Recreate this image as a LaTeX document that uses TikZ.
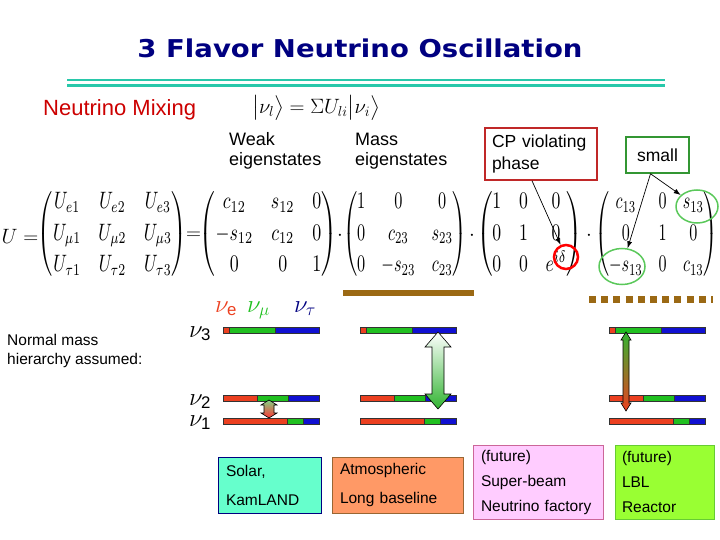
\documentclass[tikz,border=0pt]{standalone}
\usepackage{amsmath}
\usepackage{graphicx}
\usepackage{fontspec}
\setmainfont{Liberation Sans}
\newfontfamily\titlefont{DejaVu Sans}
\usepackage{tikz}
\usetikzlibrary{arrows.meta}
\usetikzlibrary{shapes.geometric}
\usetikzlibrary{positioning}

\definecolor{titleblue}{RGB}{0,0,128}
\definecolor{ruleteal}{RGB}{40,200,170}
\definecolor{mixred}{RGB}{204,0,0}
\definecolor{barred}{RGB}{236,64,32}
\definecolor{bargreen}{RGB}{32,192,32}
\definecolor{barblue}{RGB}{16,16,210}
\definecolor{massbrown}{RGB}{155,105,20}
\definecolor{cpline}{RGB}{192,40,40}
\definecolor{smallline}{RGB}{51,150,51}
\definecolor{ringgreen}{RGB}{90,200,90}
\definecolor{arrowgreen}{RGB}{50,180,50}
\definecolor{solarfill}{RGB}{102,255,204}
\definecolor{solarline}{RGB}{0,0,128}
\definecolor{atmfill}{RGB}{255,153,102}
\definecolor{atmline}{RGB}{153,102,51}
\definecolor{beamfill}{RGB}{255,204,255}
\definecolor{beamline}{RGB}{204,102,153}
\definecolor{reacfill}{RGB}{153,255,51}
\definecolor{reacline}{RGB}{102,204,51}

% one 3x3 matrix, stretched to width #1
\newcommand{\matbox}[2]{\resizebox*{#1}{94pt}{%
  $\renewcommand{\arraystretch}{1.1}\displaystyle\begin{pmatrix}#2\end{pmatrix}$}}

% #1 style, #2 x, #3 top, #4 bottom, #5 head half width, #6 shaft half width, #7 head length
\newcommand{\dblarrow}[7]{%
  \path[draw=black,line width=0.6pt,#1] (#2,#3) -- (#2+#5,#3+#7) -- (#2+#6,#3+#7)
    -- (#2+#6,#4-#7) -- (#2+#5,#4-#7) -- (#2,#4) -- (#2-#5,#4-#7) -- (#2-#6,#4-#7)
    -- (#2-#6,#3+#7) -- (#2-#5,#3+#7) -- cycle;}

\begin{document}
\begin{tikzpicture}[x=1pt,y=-1pt,
    every node/.style={inner sep=0pt},
    expbox/.style={draw,line width=1pt,align=left,font=\fontsize{15.5}{29}\selectfont},
    lbl/.style={anchor=base west,align=left,font=\fontsize{18}{20}\selectfont},
    nulbl/.style={anchor=base west,font=\fontsize{24}{24}\selectfont},
    op/.style={font=\fontsize{22}{24}\selectfont},
    seg/.style={draw=black!80,line width=0.5pt},
    pointer/.style={-{Latex[length=7pt,width=5pt]},line width=0.7pt}]
  \useasboundingbox (0,0) rectangle (720,540);

  % title and rule
  \node[text=titleblue] (title) at (360,48)
    {\resizebox*{445pt}{19pt}{\titlefont\bfseries 3 Flavor Neutrino Oscillation}};
  \draw[ruleteal,line width=2.5pt] (67,80) -- (665,80);
  \draw[ruleteal,line width=3.5pt] (67,85.5) -- (665,85.5);

  \node[anchor=base west,font=\fontsize{22}{24}\selectfont,text=mixred] (mixing) at (43,116) {Neutrino Mixing};
  \node[font=\fontsize{22}{24}\selectfont] (sum) at (316,108)
    {$\bigl|\nu_l\bigr\rangle=\Sigma U_{li}\bigl|\nu_i\bigr\rangle$};

  \node[lbl] (weak) at (229,166) {Weak\\eigenstates};
  \node[lbl] (mass) at (355,166) {Mass\\eigenstates};
  \node[draw=cpline,line width=1.5pt,minimum width=112,minimum height=52,text width=98,
    align=left,font=\fontsize{17.5}{22}\selectfont] (cp) at (541,154) {CP violating\\phase};
  \node[draw=smallline,line width=1.5pt,minimum width=63,minimum height=36,
    font=\fontsize{17.5}{20}\selectfont] (small) at (657.5,155) {small};

  % mixing matrix
  \node[op] (lhs) at (20,236) {$U=$};
  \node (mixmat) at (112.5,234) {\matbox{149pt}{U_{e1}&U_{e2}&U_{e3}\\U_{\mu1}&U_{\mu2}&U_{\mu3}\\U_{\tau1}&U_{\tau2}&U_{\tau3}}};
  \node[op] (eq) at (193.5,236) {$=$};
  \node (rot12) at (268.5,234) {\matbox{137pt}{c_{12}&s_{12}&0\\-s_{12}&c_{12}&0\\0&0&1}};
  \node[op] (dot1) at (340,236) {$\cdot$};
  \node (rot23) at (405,234) {\matbox{124pt}{1&0&0\\0&c_{23}&s_{23}\\0&-s_{23}&c_{23}}};
  \node[op] (dot2) at (472,236) {$\cdot$};
  \node (cpmat) at (529.5,234) {\matbox{105pt}{1&0&0\\0&1&0\\0&0&e^{i\delta}}};
  \node[op] (dot3) at (589,236) {$\cdot$};
  \node (rot13) at (656.5,234) {\matbox{123pt}{c_{13}&0&s_{13}\\0&1&0\\-s_{13}&0&c_{13}}};

  \node[circle,draw=red,line width=2.5pt,minimum size=24] (phase) at (566,257) {};
  \node[ellipse,draw=ringgreen,line width=1.5pt,minimum width=42,minimum height=33] (s13up) at (697,206.5) {};
  \node[ellipse,draw=ringgreen,line width=1.5pt,minimum width=46,minimum height=36] (s13low) at (622,266.5) {};
  \draw[pointer] ([xshift=-9pt]cp.south) -- (phase);
  \draw[pointer] ([xshift=-7pt]small.south) -- (s13up);
  \draw[pointer] ([xshift=-7pt]small.south) -- (s13low);

  % mass scales
  \fill[massbrown] (343,290) rectangle (474,296);
  \draw[massbrown,line width=7pt,dash pattern=on 7pt off 5.2pt] (589,299) -- (713,299);

  % levels
  \node[nulbl,text=barred] (nue) at (215,312) {$\nu_{\text{e}}$};
  \node[nulbl,text=bargreen] (numu) at (247,312) {$\nu_{\mu}$};
  \node[nulbl,text=titleblue] (nutau) at (294,312) {$\nu_{\tau}$};
  \node[nulbl] (nu3) at (189,337) {$\nu_{\text{3}}$};
  \node[nulbl] (nu2) at (189,405) {$\nu_{\text{2}}$};
  \node[nulbl] (nu1) at (189,426) {$\nu_{\text{1}}$};
  \node[anchor=base west,align=left,font=\fontsize{15.5}{19}\selectfont] (normal) at (7,364)
    {Normal mass\\hierarchy assumed:};

  \foreach \x in {223,360,609} {
    \foreach \y/\r/\g in {330/6/52,398/34/65,421/64/80} {
      \path[seg,fill=barred] (\x,\y-3) rectangle (\x+\r,\y+3);
      \path[seg,fill=bargreen] (\x+\r,\y-3) rectangle (\x+\g,\y+3);
      \path[seg,fill=barblue] (\x+\g,\y-3) rectangle (\x+96,\y+3);
    }
  }

  \dblarrow{top color=arrowgreen!60,middle color=white,bottom color=red!80}{269}{400}{418}{8}{5}{5}
  \dblarrow{top color=white,bottom color=arrowgreen}{438}{332}{409}{13}{6}{15}
  \dblarrow{top color=arrowgreen,middle color=red!15,bottom color=barred}{626}{332}{411}{5}{3}{8}

  % experiments
  \node[expbox,fill=solarfill,draw=solarline,minimum width=103,minimum height=56,text width=87]
    (solar) at (269.5,485) {Solar,\\KamLAND};
  \node[expbox,fill=atmfill,draw=atmline,minimum width=131,minimum height=56,text width=115]
    (atm) at (397.5,485) {Atmospheric\\Long baseline};
  \node[expbox,fill=beamfill,draw=beamline,minimum width=130,minimum height=74,text width=114,
    font=\fontsize{15.5}{25}\selectfont] (beam) at (538,482) {(future)\\Super-beam\\Neutrino factory};
  \node[expbox,fill=reacfill,draw=reacline,minimum width=99,minimum height=74,text width=85,
    font=\fontsize{15.5}{25}\selectfont] (reactor) at (664.5,482) {(future)\\LBL\\Reactor};
\end{tikzpicture}
\end{document}
